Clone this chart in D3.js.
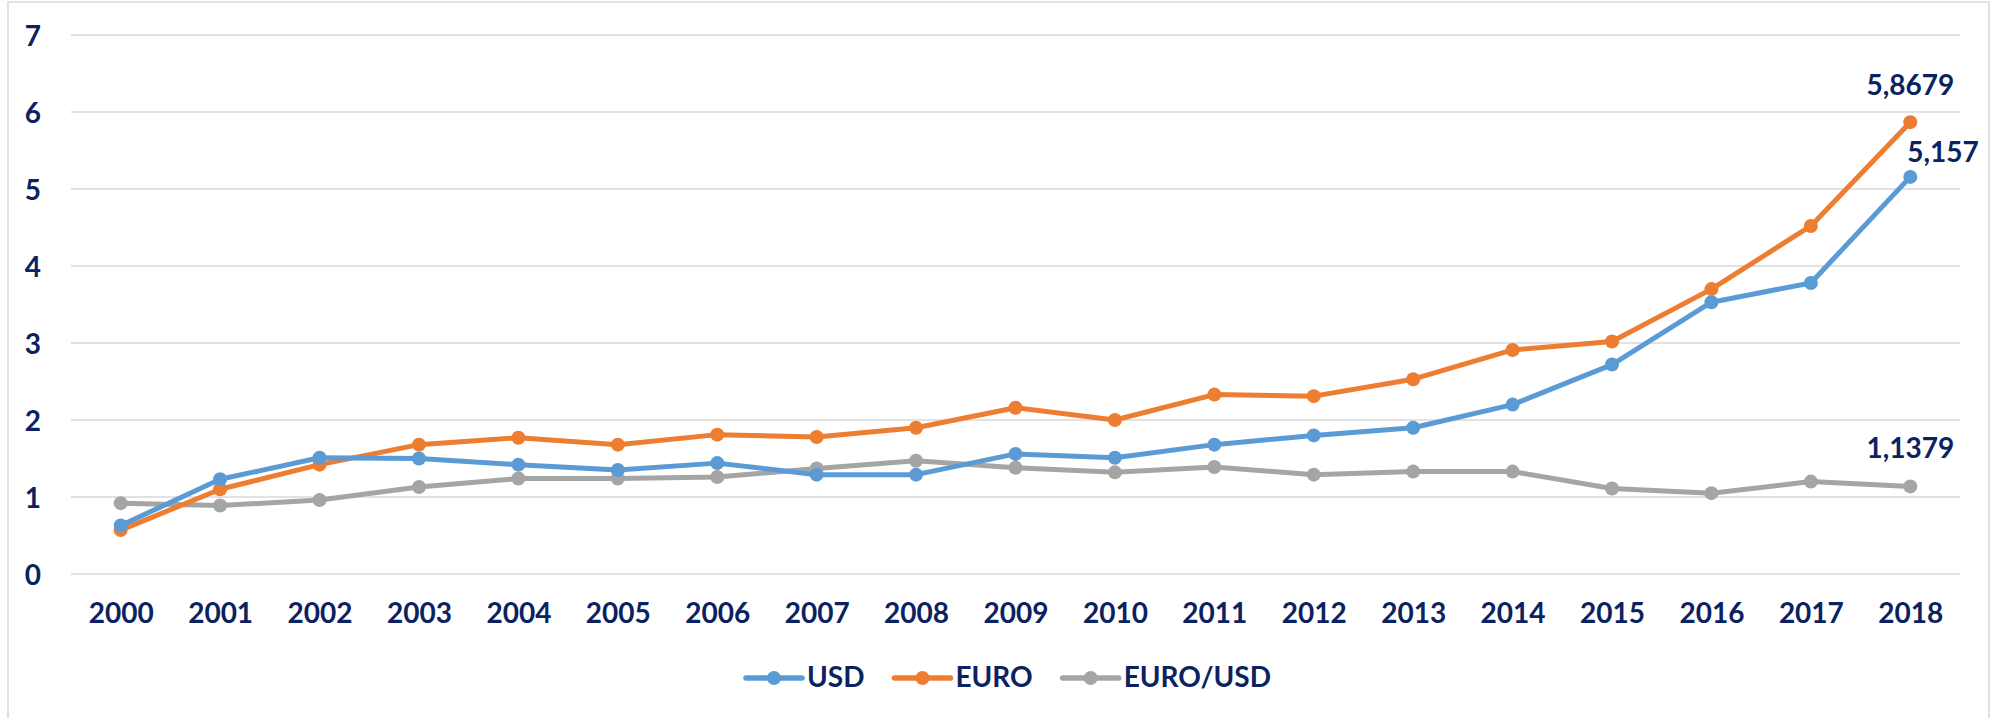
<html>
  <head>
    <script src="https://cdnjs.cloudflare.com/ajax/libs/d3/7.8.5/d3.min.js"></script>
    <style>
    body {
      margin: 0;
      background: white;
      font-family: Lato, "Open Sans", sans-serif;
    }
    text {
      fill: #0b2260;
      font-weight: bold;
      font-size: 28px;
      font-family: Lato, "Open Sans", sans-serif;
    }
    .grid line {
      stroke: #d9d9d9;
      stroke-width: 1.5;
    }
    </style>
  </head>
  <body>
    <svg width="1995" height="718" id="chart"></svg>

    <script>
    var years = ['2000', '2001', '2002', '2003', '2004', '2005', '2006', '2007', '2008', '2009',
                 '2010', '2011', '2012', '2013', '2014', '2015', '2016', '2017', '2018'];
    var usd = [0.63, 1.23, 1.51, 1.50, 1.42, 1.35, 1.44, 1.29, 1.29, 1.56,
               1.51, 1.68, 1.80, 1.90, 2.20, 2.72, 3.53, 3.78, 5.157];
    var euro = [0.57, 1.10, 1.42, 1.68, 1.77, 1.68, 1.81, 1.78, 1.90, 2.16,
                2.00, 2.33, 2.31, 2.53, 2.91, 3.02, 3.70, 4.52, 5.8679];
    var euroUsd = [0.92, 0.89, 0.96, 1.13, 1.24, 1.24, 1.26, 1.37, 1.47, 1.38,
                   1.32, 1.39, 1.29, 1.33, 1.33, 1.11, 1.05, 1.20, 1.1379];
    var yTicks = [0, 1, 2, 3, 4, 5, 6, 7];

    var series = [
      {name: 'USD', values: usd, color: '#5b9bd5'},
      {name: 'EURO', values: euro, color: '#ed7d31'},
      {name: 'EURO/USD', values: euroUsd, color: '#a5a5a5'}
    ];

    var svg = d3.select('#chart');

    // outer chart border
    svg.append('rect')
      .attr('x', 8).attr('y', 2)
      .attr('width', 1981).attr('height', 730)
      .attr('fill', 'none')
      .attr('stroke', '#d9d9d9')
      .attr('stroke-width', 1.5);

    var x = d3.scalePoint().domain(years).range([71, 1960]).padding(0.5);
    var y = d3.scaleLinear().domain([0, 7]).range([574, 35]);

    // horizontal gridlines
    svg.append('g')
      .attr('class', 'grid')
      .selectAll('line')
      .data(yTicks)
      .enter()
      .append('line')
      .attr('x1', 71).attr('x2', 1960)
      .attr('y1', function(d) { return y(d); })
      .attr('y2', function(d) { return y(d); });

    var yAxis = svg.append('g')
      .attr('transform', 'translate(41,0)')
      .call(d3.axisLeft(y).tickValues(yTicks).tickFormat(d3.format('d')).tickSize(0).tickPadding(0));
    yAxis.select('.domain').remove();
    yAxis.selectAll('text')
      .attr('dy', '0.36em')
      .attr('font-size', null)
      .attr('font-family', null);

    var xAxis = svg.append('g')
      .attr('transform', 'translate(0,574)')
      .call(d3.axisBottom(x).tickSize(0).tickPadding(0));
    xAxis.select('.domain').remove();
    xAxis.selectAll('text')
      .attr('y', 49)
      .attr('dy', 0);
    svg.selectAll('.tick text').attr('fill', null);
    xAxis.attr('font-size', null).attr('font-family', null);
    yAxis.attr('font-size', null).attr('font-family', null);

    var line = d3.line()
      .x(function(d, i) { return x(years[i]); })
      .y(function(d) { return y(d); });

    // draw in reverse so USD sits on top like the original
    series.slice().reverse().forEach(function(s) {
      var g = svg.append('g');
      g.append('path')
        .attr('d', line(s.values))
        .attr('fill', 'none')
        .attr('stroke', s.color)
        .attr('stroke-width', 5)
        .attr('stroke-linejoin', 'round');
      g.selectAll('circle')
        .data(s.values)
        .enter()
        .append('circle')
        .attr('cx', function(d, i) { return x(years[i]); })
        .attr('cy', function(d) { return y(d); })
        .attr('r', 7)
        .attr('fill', s.color);
    });

    // value labels on the last year
    var last = years.length - 1;
    function fmt(v) { return String(v).replace('.', ','); }
    var labels = [
      {v: euro[last], dx: 0, dy: -27, anchor: 'middle'},
      {v: usd[last], dx: -3, dy: -15, anchor: 'start'},
      {v: euroUsd[last], dx: 0, dy: -28, anchor: 'middle'}
    ];
    svg.append('g').selectAll('text')
      .data(labels)
      .enter()
      .append('text')
      .attr('x', function(d) { return x(years[last]) + d.dx; })
      .attr('y', function(d) { return y(d.v) + d.dy; })
      .attr('text-anchor', function(d) { return d.anchor; })
      .text(function(d) { return fmt(d.v); });

    // legend, laid out left to right
    var legend = svg.append('g').attr('transform', 'translate(0,678)');
    var lx = 746;
    series.forEach(function(s) {
      legend.append('line')
        .attr('x1', lx).attr('x2', lx + 56)
        .attr('y1', 0).attr('y2', 0)
        .attr('stroke', s.color)
        .attr('stroke-width', 5.5)
        .attr('stroke-linecap', 'round');
      legend.append('circle')
        .attr('cx', lx + 28).attr('cy', 0)
        .attr('r', 7)
        .attr('fill', s.color);
      var t = legend.append('text')
        .attr('x', lx + 61)
        .attr('y', 9)
        .text(s.name);
      lx += 61 + t.node().getComputedTextLength() + 30;
    });
    </script>
  </body>
</html>
